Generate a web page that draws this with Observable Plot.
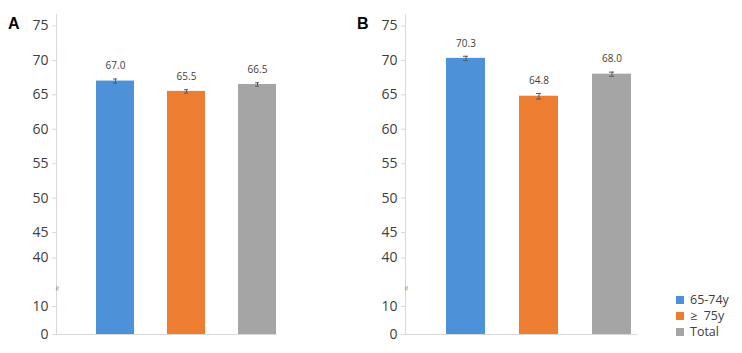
<!DOCTYPE html>
<html>
<head>
<meta charset="utf-8">
<script src="https://cdn.jsdelivr.net/npm/d3@7"></script>
<script src="https://cdn.jsdelivr.net/npm/@observablehq/plot@0.6"></script>
<style>
  html, body { margin: 0; padding: 0; background: #fff; }
  #wrap { position: relative; width: 742px; height: 353px; overflow: hidden; font-family: "Open Sans", "Noto Sans", sans-serif; }
  #wrap svg { position: absolute; left: 0; top: 0; }
  .plabel { position: absolute; font-family: "Liberation Sans", Arial, sans-serif; font-weight: bold; font-size: 16px; color: #000; }
  #legend { position: absolute; left: 676px; top: 292px; font-size: 12.5px; color: #404040; }
  #legend .row { display: flex; align-items: center; white-space: pre; height: 16px; line-height: 16px; }
  #legend .sw { width: 8px; height: 8px; margin-right: 6px; }
</style>
</head>
<body>
<div id="wrap"></div>
<script>
// ---- data ----
const groups = ["65-74y", "≥ 75y", "Total"];
const legendLabels = ["65-74y", "≥  75y", "Total"];
const panelNames = ["A", "B"];
const valuesA = [67.0, 65.5, 66.5];
const errorsA = [0.3, 0.25, 0.25];
const valuesB = [70.3, 64.8, 68.0];
const errorsB = [0.3, 0.4, 0.3];
const colors = ["#4d92d9", "#ed7d31", "#a5a5a5"];
const yTicks = [0, 10, 40, 45, 50, 55, 60, 65, 70, 75];
const yBreakDomain = [0, 10, 40, 45, 75];
const breakMark = [23];

const wrap = document.getElementById("wrap");

function panel(values, errors, layout) {
  const data = groups.map((g, i) => ({group: g, value: values[i], err: errors[i]}));
  return Plot.plot({
    width: 742,
    height: 353,
    marginLeft: layout.left,
    marginRight: layout.right,
    marginTop: 14,
    marginBottom: 19,
    style: {background: "transparent", fontFamily: "'Open Sans', 'Noto Sans', sans-serif", color: "#404040"},
    x: {domain: groups, range: layout.xRange, paddingInner: 0.47, paddingOuter: 0.55, axis: null},
    y: {type: "linear", domain: yBreakDomain, range: [334, 306, 257.5, 232, 25.5], axis: null},
    color: {domain: groups, range: colors},
    marks: [
      Plot.frame({anchor: "left", stroke: "#d9d9d9"}),
      Plot.axisY(yTicks, {tickSize: 4, tickPadding: 4, fontSize: 14, stroke: "#d9d9d9", fill: "#404040", label: null, tickFormat: d => String(d)}),
      Plot.barY(data, {x: "group", y: "value", fill: "group"}),
      Plot.ruleY([0], {stroke: "#d9d9d9"}),
      Plot.ruleX(data, {x: "group", y1: d => d.value - d.err, y2: d => d.value + d.err, stroke: "#595959", strokeWidth: 1}),
      Plot.tickY(data, {x: "group", y: d => d.value + d.err, insetLeft: 17, insetRight: 17, stroke: "#595959"}),
      Plot.tickY(data, {x: "group", y: d => d.value - d.err, insetLeft: 17, insetRight: 17, stroke: "#595959"}),
      Plot.text(data, {x: "group", y: "value", text: d => d.value.toFixed(1), dy: -15, fontSize: 10, fill: "#404040"}),
      Plot.text(breakMark, {y: d => d, frameAnchor: "left", text: () => "≈", rotate: 90, fontSize: 9, fill: "#808080"})
    ]
  });
}

const svgA = panel(valuesA, errorsA, {left: 56, right: 742 - 277, xRange: [56, 315]});
const svgB = panel(valuesB, errorsB, {left: 405, right: 742 - 637, xRange: [405, 672]});
wrap.appendChild(svgA);
wrap.appendChild(svgB);

// panel letters
[[panelNames[0], 8], [panelNames[1], 357]].forEach(([t, x]) => {
  const d = document.createElement("div");
  d.className = "plabel";
  d.textContent = t;
  d.style.left = x + "px";
  d.style.top = "15px";
  wrap.appendChild(d);
});

// legend
const leg = document.createElement("div");
leg.id = "legend";
legendLabels.forEach((t, i) => {
  const row = document.createElement("div");
  row.className = "row";
  const sw = document.createElement("div");
  sw.className = "sw";
  sw.style.background = colors[i];
  const tx = document.createElement("span");
  tx.textContent = t;
  row.appendChild(sw);
  row.appendChild(tx);
  leg.appendChild(row);
});
wrap.appendChild(leg);
</script>
</body>
</html>
